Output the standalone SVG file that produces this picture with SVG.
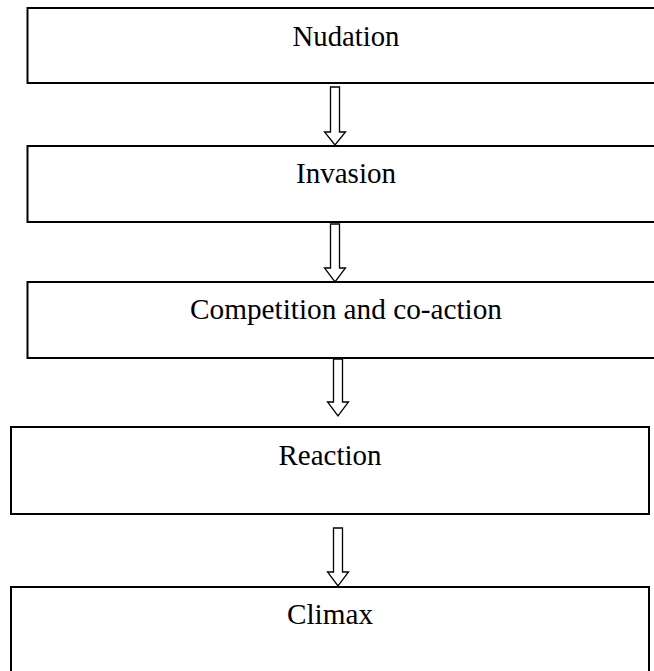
<svg xmlns="http://www.w3.org/2000/svg" width="654" height="671" viewBox="0 0 654 671">
<style>
.box{fill:#fff;stroke:#000;stroke-width:2}
.lbl{font-family:"Liberation Serif","Times New Roman",serif;font-size:30px;fill:#000;text-anchor:middle}
.arr{fill:#fff;stroke:#000;stroke-width:1.3;stroke-linejoin:miter}
</style>
<rect width="654" height="671" fill="#fff"/>
<g id="nudation">
<rect class="box" x="27.5" y="8" width="638" height="75"/>
<text class="lbl" x="346" y="46" textLength="107" lengthAdjust="spacingAndGlyphs">Nudation</text>
</g>
<g id="invasion">
<rect class="box" x="27.5" y="146" width="638" height="76"/>
<text class="lbl" x="346" y="183" textLength="100" lengthAdjust="spacingAndGlyphs">Invasion</text>
</g>
<g id="competition">
<rect class="box" x="27.5" y="282" width="638" height="76"/>
<text class="lbl" x="346" y="319" textLength="312" lengthAdjust="spacingAndGlyphs">Competition and co-action</text>
</g>
<g id="reaction">
<rect class="box" x="11" y="427" width="638" height="87"/>
<text class="lbl" x="330" y="465" textLength="103" lengthAdjust="spacingAndGlyphs">Reaction</text>
</g>
<g id="climax">
<rect class="box" x="11" y="587" width="638" height="100"/>
<text class="lbl" x="330" y="624" textLength="86" lengthAdjust="spacingAndGlyphs">Climax</text>
</g>
<g id="connectors">
<polygon class="arr" points="330.5,87 339.5,87 339.5,132 345.5,132 335,145 324.5,132 330.5,132"/>
<polygon class="arr" points="330.5,224 339.5,224 339.5,268 345.5,268 335,282 324.5,268 330.5,268"/>
<polygon class="arr" points="333.5,359 342.5,359 342.5,402 348.5,402 338,416 327.5,402 333.5,402"/>
<polygon class="arr" points="333.5,528 342.5,528 342.5,572 348.5,572 338,586 327.5,572 333.5,572"/>
</g>
</svg>
